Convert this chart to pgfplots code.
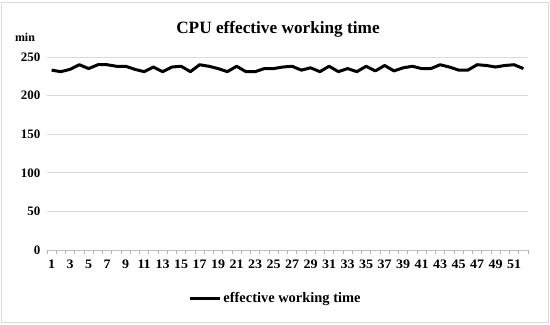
\documentclass[border=0pt]{standalone}
\usepackage{pgfplots}
\pgfplotsset{compat=1.18}
\usepackage{fontspec}
\setmainfont{Liberation Serif}
\begin{document}
\begin{tikzpicture}[x=1bp,y=1bp]
\useasboundingbox (-47bp,-75bp) rectangle (503bp,250bp);
\draw[black!15,line width=1bp] (-45bp,-72bp) rectangle (501bp,247bp);
\begin{axis}[
  at={(0,0)}, anchor=south west,
  scale only axis, width=481bp, height=193bp,
  xmin=0.5, xmax=52.5, ymin=0, ymax=250,
  xtick={1,3,...,51},
  minor xtick={0.5,1.5,...,52.5},
  ytick={0,50,...,250},
  ymajorgrids, major grid style={draw=black!15, line width=0.8bp},
  axis y line*=left,
  y axis line style={draw=none},
  major y tick style={draw=none},
  axis x line*=bottom,
  x axis line style={draw=black!25, line width=0.8bp, -},
  major x tick style={draw=none},
  minor x tick style={draw=black!30, line width=0.6bp},
  minor tick length=4bp,
  tick align=outside,
  /pgf/number format/assume math mode=true,
  ticklabel style={font=\bfseries\fontsize{13}{14}\selectfont},
  xticklabel style={yshift=-2bp, xscale=1.08},
  yticklabel style={xshift=1bp},
  clip=false,
  legend style={at={(0.475,-0.25)}, anchor=center, draw=none, fill=none, font=\bfseries\fontsize{14.5}{16}\selectfont, legend cell align=left},
  legend image code/.code={\draw[line width=3bp] (0bp,0bp) -- (30bp,0bp);},
]
\addplot[black, line width=3bp, line join=round] coordinates {
(1,233) (2,231) (3,234) (4,240) (5,235) (6,240) (7,240) (8,238) (9,238) (10,234)
(11,231) (12,237) (13,231) (14,237) (15,238) (16,231) (17,240) (18,238) (19,235) (20,231)
(21,238) (22,231) (23,231) (24,235) (25,235) (26,237) (27,238) (28,233) (29,236) (30,231)
(31,238) (32,231) (33,235) (34,231) (35,238) (36,232) (37,239) (38,232) (39,236) (40,238)
(41,235) (42,235) (43,240) (44,237) (45,233) (46,233) (47,240) (48,239) (49,237) (50,239)
(51,240) (52,235)
};
\addlegendentry{effective working time}
\end{axis}
\node[font=\bfseries\fontsize{17.3}{19}\selectfont] at (231bp,221bp) {CPU effective working time};
\node[font=\bfseries\fontsize{12}{13}\selectfont] at (-22bp,213bp) {min};
\end{tikzpicture}
\end{document}
